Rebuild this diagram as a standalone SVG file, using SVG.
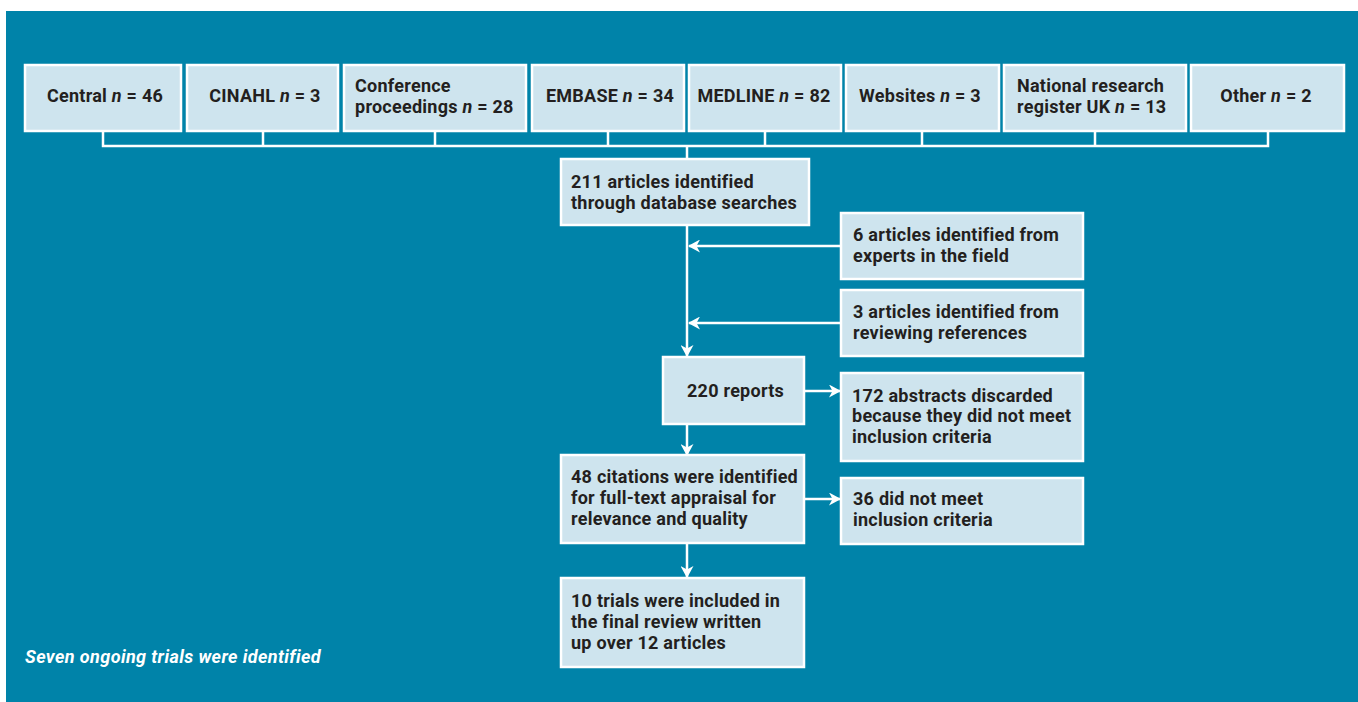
<svg xmlns="http://www.w3.org/2000/svg" width="1358" height="702" viewBox="0 0 1358 702">
<style>
.bg{fill:#0083a9}
.box{fill:#cee4ee;stroke:#fff;stroke-width:2.5}
.t{font-family:Roboto,"Liberation Sans",sans-serif;font-weight:700;font-size:18px;letter-spacing:0.25px;fill:#231f20}
.c{text-anchor:middle}
.ln{stroke:#fff;stroke-width:2.5;fill:none}
.note{font-family:Roboto,"Liberation Sans",sans-serif;font-weight:700;font-style:italic;font-size:18px;letter-spacing:0.4px;fill:#fff}
</style>
<defs>
<marker id="ah" markerUnits="userSpaceOnUse" markerWidth="12" markerHeight="13" refX="11" refY="6.5" orient="auto">
<path d="M0,0 L12,6.5 L0,13 L3.5,6.5 Z" fill="#fff"/>
</marker>
</defs>
<rect class="bg" x="6" y="11" width="1352" height="691"/>
<g id="connectors">
<path class="ln" d="M103,131 V146 H1268 V131 M263,131 V146 M435,131 V146 M608,131 V146 M765,131 V146 M922,131 V146 M1095,131 V146 M687,146 V159"/>
<path class="ln" d="M687,225 V356" marker-end="url(#ah)"/>
<path class="ln" d="M841,246 H689" marker-end="url(#ah)"/>
<path class="ln" d="M841,323 H689" marker-end="url(#ah)"/>
<path class="ln" d="M803,391 H840" marker-end="url(#ah)"/>
<path class="ln" d="M687,424 V455" marker-end="url(#ah)"/>
<path class="ln" d="M803,499 H840" marker-end="url(#ah)"/>
<path class="ln" d="M687,543 V577" marker-end="url(#ah)"/>
</g>
<g id="central"><rect class="box" x="25" y="65" width="156" height="66"/><text class="t c" x="105" y="102">Central <tspan font-style="italic">n</tspan> = 46</text></g>
<g id="cinahl"><rect class="box" x="187" y="65" width="151" height="66"/><text class="t c" x="265" y="102">CINAHL <tspan font-style="italic">n</tspan> = 3</text></g>
<g id="conference"><rect class="box" x="344" y="65" width="182" height="66"/><text class="t" x="355" y="92">Conference<tspan x="355" y="113">proceedings <tspan font-style="italic">n</tspan> = 28</tspan></text></g>
<g id="embase"><rect class="box" x="532" y="65" width="152" height="66"/><text class="t c" x="610" y="102">EMBASE <tspan font-style="italic">n</tspan> = 34</text></g>
<g id="medline"><rect class="box" x="689" y="65" width="152" height="66"/><text class="t c" x="764" y="102">MEDLINE <tspan font-style="italic">n</tspan> = 82</text></g>
<g id="websites"><rect class="box" x="846" y="65" width="153" height="66"/><text class="t c" x="920" y="102">Websites <tspan font-style="italic">n</tspan> = 3</text></g>
<g id="national"><rect class="box" x="1004" y="65" width="182" height="66"/><text class="t" x="1017" y="92">National research<tspan x="1017" y="113">register UK <tspan font-style="italic">n</tspan> = 13</tspan></text></g>
<g id="other"><rect class="box" x="1191" y="65" width="153" height="66"/><text class="t c" x="1266" y="102">Other <tspan font-style="italic">n</tspan> = 2</text></g>
<g id="n211"><rect class="box" x="561" y="159" width="248" height="66"/><text class="t" x="571" y="188">211 articles identified<tspan x="571" y="209">through database searches</tspan></text></g>
<g id="n6"><rect class="box" x="841" y="213" width="242" height="66"/><text class="t" x="853" y="241">6 articles identified from<tspan x="853" y="262">experts in the field</tspan></text></g>
<g id="n3"><rect class="box" x="841" y="290" width="242" height="66"/><text class="t" x="853" y="318">3 articles identified from<tspan x="853" y="339">reviewing references</tspan></text></g>
<g id="n220"><rect class="box" x="663" y="357" width="141" height="67"/><text class="t" x="687" y="397">220 reports</text></g>
<g id="n172"><rect class="box" x="841" y="373" width="242" height="88"/><text class="t" x="852" y="402">172 abstracts discarded<tspan x="852" y="422">because they did not meet</tspan><tspan x="852" y="443">inclusion criteria</tspan></text></g>
<g id="n48"><rect class="box" x="561" y="455" width="243" height="88"/><text class="t" x="571" y="483">48 citations were identified<tspan x="571" y="504">for full-text appraisal for</tspan><tspan x="571" y="525">relevance and quality</tspan></text></g>
<g id="n36"><rect class="box" x="841" y="478" width="242" height="66"/><text class="t" x="853" y="505">36 did not meet<tspan x="853" y="526">inclusion criteria</tspan></text></g>
<g id="n10"><rect class="box" x="561" y="578" width="243" height="89"/><text class="t" x="571" y="607">10 trials were included in<tspan x="571" y="628">the final review written</tspan><tspan x="571" y="649">up over 12 articles</tspan></text></g>
<g id="footnote"><text class="note" x="25" y="663">Seven ongoing trials were identified</text></g>
</svg>
